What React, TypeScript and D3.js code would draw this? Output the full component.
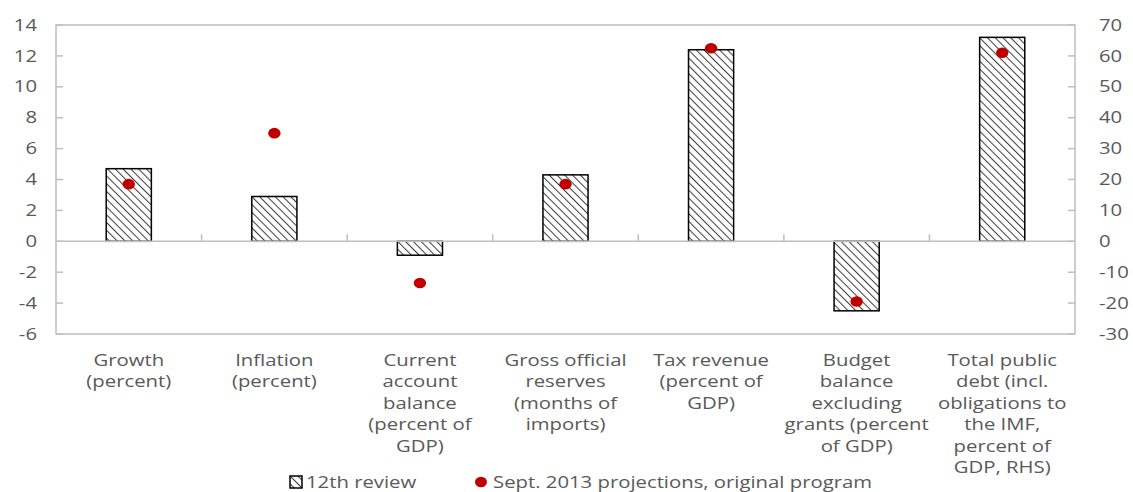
import React from 'react';
import * as d3 from 'd3';

// categories (multi-line labels)
const categories = [
  ['Growth', '(percent)'],
  ['Inflation', '(percent)'],
  ['Current', 'account', 'balance', '(percent of', 'GDP)'],
  ['Gross official', 'reserves', '(months of', 'imports)'],
  ['Tax revenue', '(percent of', 'GDP)'],
  ['Budget', 'balance', 'excluding', 'grants (percent', 'of GDP)'],
  ['Total public', 'debt (incl.', 'obligations to', 'the IMF,', 'percent of', 'GDP, RHS)'],
];
// which axis each category is read against
const useRight = [false, false, false, false, false, false, true];

const review12 = [4.7, 2.9, -0.9, 4.3, 12.4, -4.5, 66];
const sept2013 = [3.7, 7.0, -2.7, 3.7, 12.5, -3.9, 61];

const leftTicks = [14, 12, 10, 8, 6, 4, 2, 0, -2, -4, -6];
const rightTicks = [70, 60, 50, 40, 30, 20, 10, 0, -10, -20, -30];

const seriesNames = ['12th review', 'Sept. 2013 projections, original program'];

const W = 1133;
const H = 492;
const margin = { top: 25, right: 58, bottom: 158, left: 56 };

// the source picture is stretched sideways, so text is widened to match
const SX = 1.27;
const textCol = '#595959';

const T = ({ x, y, anchor = 'start', children }: { x: number; y: number; anchor?: string; children: React.ReactNode }) => (
  <text transform={`translate(${x},${y}) scale(${SX},1)`} dy="0.35em" textAnchor={anchor} fontSize={16} fill={textCol}>
    {children}
  </text>
);

const App = () => {
  const x0 = margin.left;
  const x1 = W - margin.right;
  const yTop = margin.top;
  const yBot = H - margin.bottom;

  const x = d3.scaleBand<number>().domain(d3.range(categories.length)).range([x0, x1]).paddingInner(0.69).paddingOuter(0.345);
  const band = d3.scaleBand<number>().domain(d3.range(categories.length)).range([x0, x1]);
  const yL = d3.scaleLinear().domain([-6, 14]).range([yBot, yTop]);
  const yR = d3.scaleLinear().domain([-30, 70]).range([yBot, yTop]);
  const yFor = (i: number) => (useRight[i] ? yR : yL);
  const mid = (i: number) => band(i)! + band.bandwidth() / 2;

  const grid = '#bfbfbf';

  return (
    <svg width={W} height={H} style={{ position: 'absolute', left: 0, top: 0 }} fontFamily='"Open Sans", sans-serif'>
      <defs>
        <pattern id="hatch" patternUnits="userSpaceOnUse" width="5.5" height="5.5" patternTransform="rotate(-45)">
          <rect width="5.5" height="5.5" fill="#fff" />
          <line x1="0" y1="0" x2="0" y2="5.5" stroke="#3a3a3a" strokeWidth="2" />
        </pattern>
      </defs>
      <rect x={0} y={0} width={W} height={H} fill="#fff" />

      {/* frame */}
      <rect x={x0} y={yTop} width={x1 - x0} height={yBot - yTop} fill="none" stroke={grid} strokeWidth={1.5} />

      {/* axis ticks */}
      {leftTicks.map((t) => (
        <g key={'l' + t}>
          <line x1={x0} x2={x0 + 7} y1={yL(t)} y2={yL(t)} stroke={grid} strokeWidth={1.5} />
          <T x={37} y={yL(t)} anchor="end">{t}</T>
        </g>
      ))}
      {rightTicks.map((t) => (
        <g key={'r' + t}>
          <line x1={x1 - 7} x2={x1} y1={yR(t)} y2={yR(t)} stroke={grid} strokeWidth={1.5} />
          <T x={1099} y={yR(t)}>{t}</T>
        </g>
      ))}

      {/* bars */}
      {review12.map((v, i) => {
        const y = yFor(i);
        return (
          <rect key={'b' + i} x={x(i)} width={x.bandwidth()} y={Math.min(y(v), y(0))} height={Math.abs(y(v) - y(0))}
            fill="url(#hatch)" stroke="#000" strokeWidth={1.5} />
        );
      })}

      {/* zero line with category ticks */}
      <line x1={x0} x2={x1} y1={yL(0)} y2={yL(0)} stroke={grid} strokeWidth={1.5} />
      {d3.range(1, categories.length).map((i) => (
        <line key={'ct' + i} x1={band(i)} x2={band(i)} y1={yL(0)} y2={yL(0) - 7} stroke={grid} strokeWidth={1.5} />
      ))}

      {/* dots */}
      {sept2013.map((v, i) => (
        <ellipse key={'d' + i} cx={mid(i)} cy={yFor(i)(v)} rx={6.2} ry={5.3} fill="#c00000" />
      ))}

      {/* category labels */}
      {categories.map((lines, i) => (
        <g key={'c' + i}>
          {lines.map((l, j) => (
            <T key={j} x={mid(i)} y={360 + j * 21.5} anchor="middle">{l}</T>
          ))}
        </g>
      ))}

      {/* legend */}
      <g>
        <rect x={290} y={476} width={12} height={12} fill="url(#hatch)" stroke="#000" strokeWidth={1.5} />
        <T x={306} y={482}>{seriesNames[0]}</T>
        <ellipse cx={481} cy={482} rx={6} ry={5.3} fill="#c00000" />
        <T x={493} y={482}>{seriesNames[1]}</T>
      </g>
    </svg>
  );
};

export default App;
